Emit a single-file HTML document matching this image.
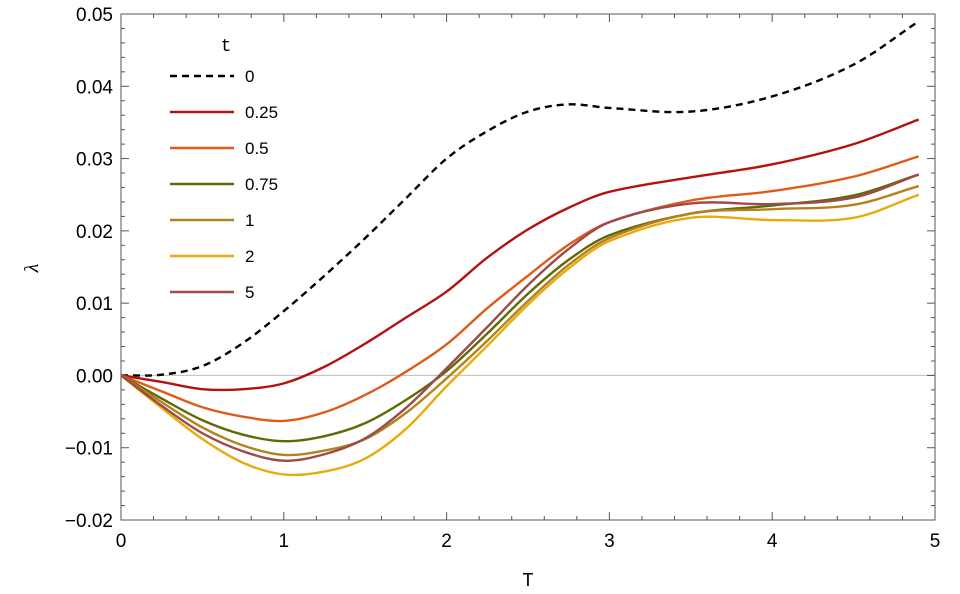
<!DOCTYPE html>
<html><head><meta charset="utf-8"><style>
body{margin:0;background:#fff}
svg{display:block;font-family:"Liberation Sans",sans-serif}
</style></head><body>
<svg id="chart" width="960" height="594" viewBox="0 0 960 594" xmlns="http://www.w3.org/2000/svg">
<g id="axes"></g>
<g id="series"></g>
<g id="legend"></g>
<text x="528" y="586" font-family="Liberation Mono, monospace" font-size="19" text-anchor="middle">T</text>
<text x="38" y="268" font-family="Liberation Serif, serif" font-style="italic" font-size="20" text-anchor="middle" transform="rotate(-90 38 268)">λ</text>
</svg>
<script>
const Tvals=[0,0.25,0.5,0.75,1,1.25,1.5,1.75,2,2.25,2.5,2.75,3,3.5,4,4.5,4.9];
const tLabels=["0","0.25","0.5","0.75","1","2","5"];
const s0=[0,0.0001,0.0013,0.0045,0.0089,0.0138,0.019,0.0245,0.030,0.0338,0.0365,0.0375,0.037,0.0365,0.0386,0.043,0.049];
const s025=[0,-0.0009,-0.0019,-0.0019,-0.0011,0.0012,0.0044,0.008,0.0116,0.0163,0.0202,0.0232,0.0254,0.0274,0.0292,0.032,0.0354];
const s05=[0,-0.0022,-0.0044,-0.0057,-0.0063,-0.0051,-0.0027,0.0005,0.0043,0.0093,0.0138,0.0181,0.0212,0.0242,0.0255,0.0275,0.0303];
const s075=[0,-0.0032,-0.0062,-0.0082,-0.0091,-0.0084,-0.0066,-0.0034,0.0006,0.0058,0.0113,0.016,0.0194,0.0224,0.0235,0.0249,0.0278];
const s1=[0,-0.0037,-0.0072,-0.0097,-0.011,-0.0104,-0.0088,-0.0052,-0.0004,0.0048,0.0103,0.0153,0.019,0.0224,0.023,0.0236,0.0262];
const s2=[0,-0.0045,-0.0088,-0.0121,-0.0137,-0.0133,-0.0115,-0.0074,-0.0015,0.0041,0.0098,0.0148,0.0186,0.0218,0.0215,0.0218,0.025];
const s5=[0,-0.0042,-0.008,-0.0105,-0.0118,-0.0109,-0.0087,-0.0045,0.001,0.0067,0.0125,0.0175,0.0212,0.0238,0.0237,0.0246,0.0278];
const seriesData=[s0,s025,s05,s075,s1,s2,s5];
const colors=["#000","#b3120f","#e05a1a","#5f6a05","#b3821c","#e8aa0c","#9c4a4a"];
const xTicks=[0,1,2,3,4,5];
const yTicks=[-0.02,-0.01,0,0.01,0.02,0.03,0.04,0.05];
const yTickLabels=["\u22120.02","\u22120.01","0.00","0.01","0.02","0.03","0.04","0.05"];
const NS="http://www.w3.org/2000/svg";
const X0=121,X1=935,Y0=520,Y1=14;
const xs=v=>X0+(v-0)/(5-0)*(X1-X0);
const ys=v=>Y0-(v+0.02)/(0.07)*(Y0-Y1);
function mk(t,a,p){const e=document.createElementNS(NS,t);for(const k in a)e.setAttribute(k,a[k]);p.appendChild(e);return e;}
const ax=document.getElementById('axes');
const frame=mk('rect',{x:X0,y:Y1,width:X1-X0,height:Y0-Y1,fill:'none',stroke:'#555','stroke-width':1},ax);


const zl=mk('line',{x1:X0,x2:X1,y1:ys(0),y2:ys(0),stroke:'#bbb','stroke-width':1},ax);


for(let i=0;i<=25;i++){const v=i*0.2,x=xs(v),L=(i%5==0)?8:4;
 mk('line',{x1:x,x2:x,y1:Y0,y2:Y0-L,stroke:'#555'},ax);mk('line',{x1:x,x2:x,y1:Y1,y2:Y1+L,stroke:'#555'},ax);}
for(let i=0;i<=35;i++){const v=-0.02+i*0.002,y=ys(v),L=(i%5==0)?8:4;
 mk('line',{x1:X0,x2:X0+L,y1:y,y2:y,stroke:'#555'},ax);mk('line',{x1:X1,x2:X1-L,y1:y,y2:y,stroke:'#555'},ax);}
xTicks.forEach(v=>{const t=mk('text',{x:xs(v),y:547,'font-size':19,'text-anchor':'middle'},ax);t.textContent=v;
 
 });
yTicks.forEach((v,i)=>{const t=mk('text',{x:113,y:ys(v)+7,'font-size':19,'text-anchor':'end'},ax);t.textContent=yTickLabels[i];
 
 });
function path(vals){const n=Tvals.length;const m=[];
 for(let i=0;i<n;i++){const a=Math.max(0,i-1),b=Math.min(n-1,i+1);m.push((vals[b]-vals[a])/(Tvals[b]-Tvals[a]));}
 let d='M'+xs(Tvals[0])+','+ys(vals[0]);
 for(let i=0;i<n-1;i++){const h=Tvals[i+1]-Tvals[i];
  d+=` C${xs(Tvals[i]+h/3)},${ys(vals[i]+m[i]*h/3)} ${xs(Tvals[i+1]-h/3)},${ys(vals[i+1]-m[i+1]*h/3)} ${xs(Tvals[i+1])},${ys(vals[i+1])}`;}
 return d;}
const sg=document.getElementById('series');
seriesData.forEach((s,i)=>{const el=mk('path',{d:path(s),fill:'none',stroke:colors[i],'stroke-width':2.4},sg);
 if(i==0)el.setAttribute('stroke-dasharray','7,5');
 
 });
const lg=document.getElementById('legend');
const lt=mk('text',{x:226,y:51,'font-size':18,'font-family':'Liberation Mono, monospace','text-anchor':'middle'},lg);lt.textContent='t';


tLabels.forEach((l,i)=>{const y=76+i*36;const ln=mk('line',{x1:170,x2:234,y1:y,y2:y,stroke:colors[i],'stroke-width':2.4},lg);
 if(i==0)ln.setAttribute('stroke-dasharray','7,5');
 
 
 const t=mk('text',{x:245,y:y+6,'font-size':17},lg);t.textContent=l;
 
 });
</script>
</body></html>
